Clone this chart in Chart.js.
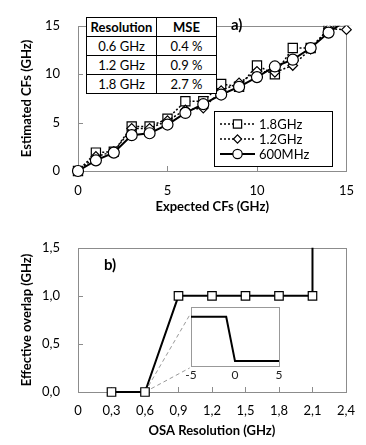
<!DOCTYPE html>
<html>
<head>
<meta charset="utf-8">
<script src="https://cdn.jsdelivr.net/npm/chart.js@4.4.1/dist/chart.umd.min.js"></script>
<style>
body { margin: 0; background: #fff; width: 366px; height: 445px; position: relative; overflow: hidden; font-family: Lato, sans-serif; }
canvas { position: absolute; }
#chartA { left: 0; top: 0; }
#chartB { left: 0; top: 222px; }
#inset { left: 168px; top: 300px; }
#mseTable { position: absolute; left: 86px; top: 17px; border-collapse: collapse; font-size: 13px; background: #fff; }
#mseTable td { border: 1px solid #000; text-align: center; height: 18px; padding: 0; line-height: 17px; }
#mseTable tr:first-child td { font-weight: bold; }
.tag { position: absolute; font-weight: bold; font-size: 15px; }
</style>
</head>
<body>
<canvas id="chartA" width="366" height="222"></canvas>
<canvas id="chartB" width="366" height="223"></canvas>
<canvas id="inset" width="122" height="86"></canvas>
<table id="mseTable"></table>
<div class="tag" style="left:231px;top:15px">a)</div>
<div class="tag" style="left:104px;top:255px">b)</div>
<script>
// a) estimated vs expected CFs
const expected = [0, 1, 2, 3, 4, 5, 6, 7, 8, 9, 10, 11, 12, 13, 14, 15];
const est600 = [0, 1.1, 1.9, 3.7, 3.9, 4.8, 6.0, 6.9, 7.9, 8.7, 9.7, 10.8, 11.5, 12.7, 14.3, 15.6];
const est1200 = [0, 1.5, 2.0, 4.4, 4.4, 5.2, 6.3, 6.5, 8.3, 9.1, 10.3, 10.2, 10.9, 12.6, 14.7, 14.6];
const est1800 = [0, 1.9, 2.0, 4.6, 4.6, 5.4, 7.2, 7.2, 9.0, 8.7, 10.9, 10.0, 12.7, 12.7, 14.7, 15.6];
const seriesNames = ['1.8GHz', '1.2GHz', '600MHz'];
const aTicks = [0, 5, 10, 15];

// table inside a)
const tableHead = ['Resolution', 'MSE'];
const resolutions = ['0.6 GHz', '1.2 GHz', '1.8 GHz'];
const mseValues = ['0.4 %', '0.9 %', '2.7 %'];

// b) effective overlap vs OSA resolution
const osaRes = [0.3, 0.6, 0.9, 1.2, 1.5, 1.8, 2.1, 2.1];
const overlap = [0, 0, 1, 1, 1, 1, 1, 1.7];
const bXTicks = [0, 0.3, 0.6, 0.9, 1.2, 1.5, 1.8, 2.1, 2.4];
const bYTicks = [0, 0.5, 1.0, 1.5];
// zoom lines from the 0,6 point to the inset corners
const zoomFrom = [0.6, 0];
const zoomTo = [[1.0, 0.8], [1.0, 0.25]];

// inset
const insetX = [-5, -1, 0, 5];
const insetY = [1, 1, 0.1, 0.1];
const insetTicks = [-5, 0, 5];

const FONT = 'Lato';

// build table
const tbl = document.getElementById('mseTable');
[tableHead].concat(resolutions.map((r, i) => [r, mseValues[i]])).forEach(row => {
    const tr = document.createElement('tr');
    row.forEach((c, j) => {
        const td = document.createElement('td');
        td.innerText = c;
        td.style.width = j === 0 ? '69px' : '59px';
        tr.appendChild(td);
    });
    tbl.appendChild(tr);
});

const pts = (xs, ys) => xs.map((x, i) => ({ x: x, y: ys[i] }));
const comma = v => v === 0 ? '0' : v.toFixed(1).replace('.', ',');
const CLIP = { left: 10, right: 10, bottom: 10, top: 0 };

// grey plot frame + short inner tick marks
const frame = {
    id: 'frame',
    beforeDatasetsDraw(chart, args, o) {
        const { ctx, chartArea: a } = chart;
        ctx.save();
        ctx.strokeStyle = o.color || '#8c8c8c';
        ctx.lineWidth = 1;
        ctx.strokeRect(Math.round(a.left) + 0.5, Math.round(a.top) + 0.5, Math.round(a.width), Math.round(a.height));
        if (o.tick) {
            ctx.beginPath();
            const sx = chart.scales.x, sy = chart.scales.y;
            sx.ticks.forEach(t => {
                if (t.value <= sx.min || t.value >= sx.max) return;
                const px = Math.round(sx.getPixelForValue(t.value)) + 0.5;
                ctx.moveTo(px, a.bottom); ctx.lineTo(px, a.bottom - o.tick);
            });
            sy.ticks.forEach(t => {
                if (t.value <= sy.min || t.value >= sy.max) return;
                const py = Math.round(sy.getPixelForValue(t.value)) + 0.5;
                ctx.moveTo(a.left, py); ctx.lineTo(a.left + o.tick, py);
            });
            ctx.stroke();
        }
        ctx.restore();
    }
};

function marker(ctx, style, r, x, y) {
    ctx.beginPath();
    if (style === 'circle') ctx.arc(x, y, r, 0, Math.PI * 2);
    else if (style === 'rect') { const s = r * Math.SQRT1_2; ctx.rect(x - s, y - s, 2 * s, 2 * s); }
    else { ctx.moveTo(x, y - r); ctx.lineTo(x + r, y); ctx.lineTo(x, y + r); ctx.lineTo(x - r, y); ctx.closePath(); }
    ctx.fill(); ctx.stroke();
}

// boxed legend drawn inside plot a)
const boxLegend = {
    id: 'boxLegend',
    afterDraw(chart, args, o) {
        const ctx = chart.ctx;
        ctx.save();
        ctx.fillStyle = '#fff';
        ctx.strokeStyle = '#000';
        ctx.lineWidth = 1;
        ctx.fillRect(o.x, o.y, o.w, o.h);
        ctx.strokeRect(o.x + 0.5, o.y + 0.5, o.w, o.h);
        o.items.forEach((di, i) => {
            const ds = chart.data.datasets[di];
            const cy = o.y + o.top + i * o.rowH;
            ctx.strokeStyle = '#000';
            ctx.lineWidth = ds.borderWidth;
            ctx.setLineDash(ds.borderDash || []);
            ctx.beginPath();
            ctx.moveTo(o.x + 6, cy); ctx.lineTo(o.x + 41, cy);
            ctx.stroke();
            ctx.setLineDash([]);
            ctx.lineWidth = 1.2;
            ctx.fillStyle = '#fff';
            marker(ctx, ds.pointStyle, ds.pointRadius * (ds.pointStyle === 'rect' ? 0.9 : 0.85), o.x + 23.5, cy);
            ctx.fillStyle = '#000';
            ctx.font = '13px ' + FONT;
            ctx.textBaseline = 'middle';
            ctx.fillText(seriesNames[i], o.x + 45, cy + 1);
        });
        ctx.restore();
    }
};

const tickFont = { family: FONT, size: 13 };
const titleFont = { family: FONT, size: 13, weight: 'bold' };

new Chart(document.getElementById('chartA'), {
    type: 'line',
    data: {
        datasets: [
            { data: pts(expected, est600), borderColor: '#000', borderWidth: 2, pointStyle: 'circle', pointRadius: 5.5,
              pointBackgroundColor: '#fff', pointBorderColor: '#000', pointBorderWidth: 1.2, clip: CLIP },
            { data: pts(expected, est1200), borderColor: '#000', borderWidth: 1.5, borderDash: [2, 2], pointStyle: 'rectRot', pointRadius: 4.8,
              pointBackgroundColor: '#fff', pointBorderColor: '#000', pointBorderWidth: 1.2, clip: CLIP },
            { data: pts(expected, est1800), borderColor: '#000', borderWidth: 1.5, borderDash: [2, 2], pointStyle: 'rect', pointRadius: 6.5,
              pointBackgroundColor: '#fff', pointBorderColor: '#000', pointBorderWidth: 1.2, clip: CLIP }
        ]
    },
    options: {
        responsive: false,
        animation: false,
        layout: { padding: { top: 12, right: 12, left: 0, bottom: 0 } },
        plugins: {
            legend: { display: false },
            tooltip: { enabled: false },
            frame: { tick: 5 },
            boxLegend: { x: 214, y: 111, w: 118, h: 55, top: 13, rowH: 15, items: [2, 1, 0] }
        },
        scales: {
            x: {
                type: 'linear', min: 0, max: 15,
                afterBuildTicks: s => { s.ticks = aTicks.map(v => ({ value: v })); },
                ticks: { font: tickFont, color: '#000', padding: 12 },
                grid: { display: false, drawTicks: false },
                border: { display: false },
                title: { display: true, text: 'Expected CFs (GHz)', font: titleFont, color: '#000', padding: { bottom: 7 } },
                afterFit: s => { s.height = 51; }
            },
            y: {
                min: 0, max: 15,
                afterBuildTicks: s => { s.ticks = aTicks.map(v => ({ value: v })); },
                ticks: { font: tickFont, color: '#000', padding: 18 },
                grid: { display: false, drawTicks: false },
                border: { display: false },
                title: { display: true, text: 'Estimated CFs (GHz)', font: titleFont, color: '#000', padding: { top: 19 } },
                afterFit: s => { s.width = 78; }
            }
        }
    },
    plugins: [frame, boxLegend]
});

new Chart(document.getElementById('chartB'), {
    type: 'line',
    data: {
        datasets: [
            { data: pts(osaRes, overlap), borderColor: '#000', borderWidth: 2, pointStyle: 'rect',
              pointRadius: osaRes.map((x, i) => i < osaRes.length - 1 ? 6 : 0),
              pointBackgroundColor: '#fff', pointBorderColor: '#000', pointBorderWidth: 1.2, clip: CLIP },
            { data: [{ x: zoomFrom[0], y: zoomFrom[1] }, { x: zoomTo[0][0], y: zoomTo[0][1] }],
              borderColor: '#999', borderWidth: 1, borderDash: [4, 3], pointRadius: 0 },
            { data: [{ x: zoomFrom[0], y: zoomFrom[1] }, { x: zoomTo[1][0], y: zoomTo[1][1] }],
              borderColor: '#999', borderWidth: 1, borderDash: [4, 3], pointRadius: 0 }
        ]
    },
    options: {
        responsive: false,
        animation: false,
        layout: { padding: { top: 11, right: 16, left: 0, bottom: 0 } },
        plugins: { legend: { display: false }, tooltip: { enabled: false }, frame: { tick: 5 } },
        scales: {
            x: {
                type: 'linear', min: 0, max: 2.4,
                afterBuildTicks: s => { s.ticks = bXTicks.map(v => ({ value: v })); },
                ticks: { font: tickFont, color: '#000', padding: 11, callback: v => comma(v) },
                grid: { display: false, drawTicks: false },
                border: { display: false },
                title: { display: true, text: 'OSA Resolution (GHz)', font: titleFont, color: '#000', padding: { bottom: 6 } },
                afterFit: s => { s.height = 53; }
            },
            y: {
                min: 0, max: 1.5,
                afterBuildTicks: s => { s.ticks = bYTicks.map(v => ({ value: v })); },
                ticks: { font: tickFont, color: '#000', padding: 18, callback: v => v.toFixed(1).replace('.', ',') },
                grid: { display: false, drawTicks: false },
                border: { display: false },
                title: { display: true, text: 'Effective overlap (GHz)', font: titleFont, color: '#000', padding: { top: 19 } },
                afterFit: s => { s.width = 78; }
            }
        }
    },
    plugins: [frame]
});

new Chart(document.getElementById('inset'), {
    type: 'line',
    data: {
        datasets: [{ data: pts(insetX, insetY), borderColor: '#000', borderWidth: 2, pointRadius: 0 }]
    },
    options: {
        responsive: false,
        animation: false,
        layout: { padding: { top: 7, right: 11, left: 23, bottom: 0 } },
        plugins: { legend: { display: false }, tooltip: { enabled: false }, frame: { tick: 0, color: '#999' } },
        scales: {
            x: {
                type: 'linear', min: -5, max: 5,
                afterBuildTicks: s => { s.ticks = insetTicks.map(v => ({ value: v })); },
                ticks: { font: { family: FONT, size: 12 }, color: '#222', padding: 2 },
                grid: { display: false, drawTicks: false },
                border: { display: false },
                afterFit: s => { s.height = 20; }
            },
            y: { display: false, min: 0, max: 1.2 }
        }
    },
    plugins: [frame]
});
</script>
</body>
</html>
